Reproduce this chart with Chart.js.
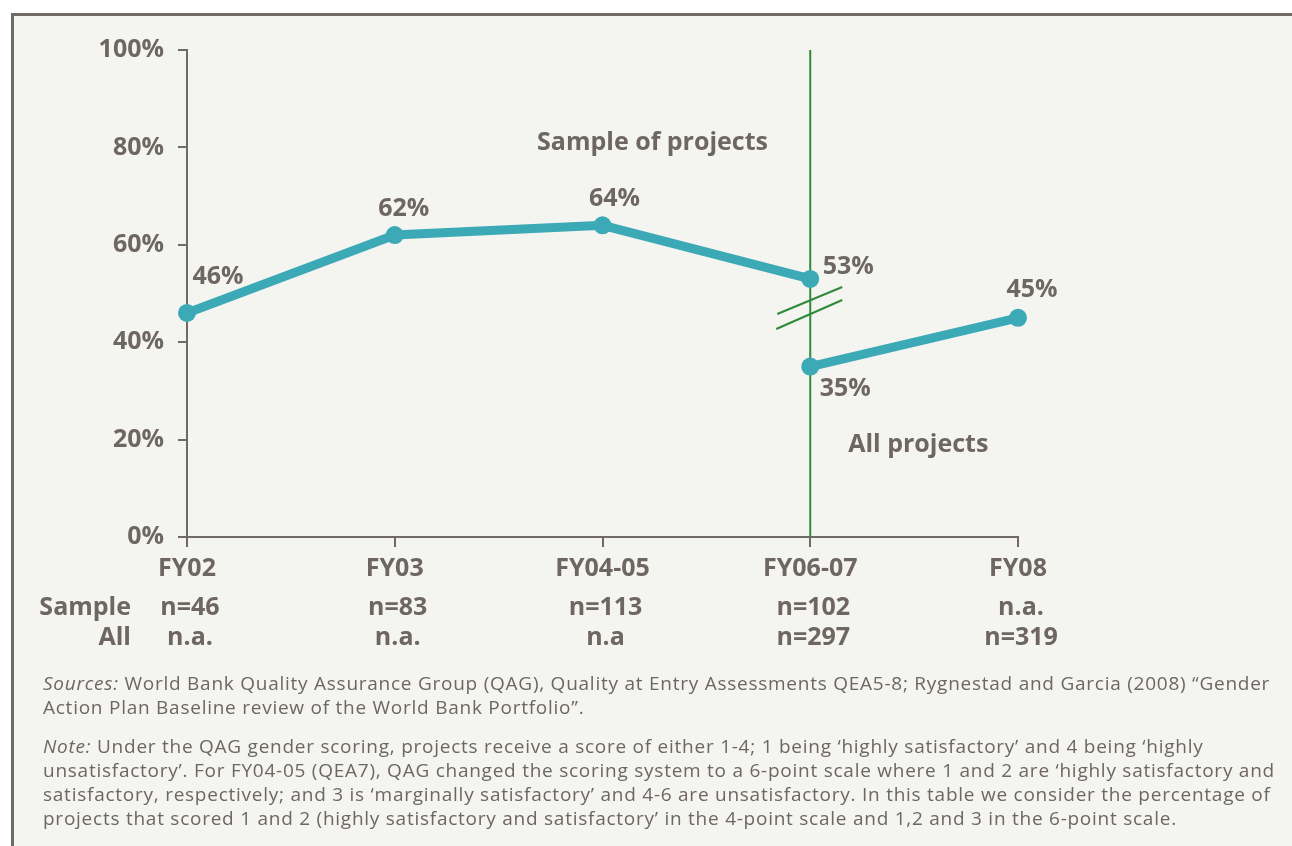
<!DOCTYPE html>
<html>
<head>
<meta charset="utf-8">
<script src="https://cdn.jsdelivr.net/npm/chart.js@4"></script>
<style>
  html, body { margin: 0; padding: 0; background: #fff; overflow: hidden; width: 1292px; height: 846px; }
  #frame { position: absolute; left: 11px; top: 13px; width: 1400px; height: 900px; border: 3px solid #6f6a66; background: #f4f4f0; }
  #wrap { position: absolute; left: 0; top: 0; width: 1292px; height: 846px; }
  #notes { position: absolute; left: 43px; top: 671px; font-family: "Open Sans", sans-serif; font-size: 19px; letter-spacing: 0.75px; line-height: 24px; color: #6d6661; white-space: nowrap; }
  #notes p { margin: 0 0 15px 0; }
</style>
</head>
<body>
<div id="frame"></div>
<div id="wrap"><canvas id="chart" width="1292" height="846"></canvas></div>
<div id="notes">
  <p><i>Sources:</i> World Bank Quality Assurance Group (QAG), Quality at Entry Assessments QEA5-8; Rygnestad and Garcia (2008) “Gender<br>Action Plan Baseline review of the World Bank Portfolio”.</p>
  <p><i>Note:</i> Under the QAG gender scoring, projects receive a score of either 1-4; 1 being ‘highly satisfactory’ and 4 being ‘highly<br>unsatisfactory’. For FY04-05 (QEA7), QAG changed the scoring system to a 6-point scale where 1 and 2 are ‘highly satisfactory and<br>satisfactory, respectively; and 3 is ‘marginally satisfactory’ and 4-6 are unsatisfactory.  In this table we consider the percentage of<br>projects that scored 1 and 2 (highly satisfactory and satisfactory’ in the 4-point scale and 1,2 and 3 in the 6-point scale.</p>
</div>
<script>
const categories = ['FY02', 'FY03', 'FY04-05', 'FY06-07', 'FY08'];
const sampleValues = [46, 62, 64, 53, null];
const allValues = [null, null, null, 35, 45];
const sampleN = ['n=46', 'n=83', 'n=113', 'n=102', 'n.a.'];
const allN = ['n.a.', 'n.a.', 'n.a', 'n=297', 'n=319'];
const yTicks = [0, 20, 40, 60, 80, 100];

const textColor = '#6d6661';
const axisColor = '#6f6a66';
const lineColor = '#3ba9b6';
const green = '#2f8a3a';
const fontFamily = '"Open Sans", sans-serif';
const boldFont = 'bold 25px ' + fontFamily;

// label offsets from each point (px)
const sampleLabelOffsets = [[31, -36], [9, -26], [12, -26], [38, -12], null];
const allLabelOffsets = [null, null, null, [35, 22], [14, -28]];

const extras = {
  id: 'extras',
  beforeDatasetsDraw(chart) {
    const { ctx, scales: { x, y } } = chart;
    const bx = x.getPixelForValue(3);
    ctx.save();
    ctx.strokeStyle = green;
    ctx.lineWidth = 2;
    ctx.beginPath();
    ctx.moveTo(bx, y.getPixelForValue(100));
    ctx.lineTo(bx, y.getPixelForValue(0));
    ctx.stroke();
    // break marks
    ctx.beginPath();
    ctx.moveTo(bx - 33, 314); ctx.lineTo(bx + 32, 287);
    ctx.moveTo(bx - 34, 329); ctx.lineTo(bx + 32, 300);
    ctx.stroke();
    ctx.restore();
  },
  afterDraw(chart) {
    const { ctx, scales: { x, y } } = chart;
    ctx.save();
    ctx.font = boldFont;
    ctx.fillStyle = textColor;
    ctx.textAlign = 'center';
    ctx.textBaseline = 'middle';

    const drawLabels = (vals, offs) => {
      vals.forEach((v, i) => {
        if (v == null || !offs[i]) return;
        ctx.fillText(v + '%', x.getPixelForValue(i) + offs[i][0], y.getPixelForValue(v) + offs[i][1]);
      });
    };
    drawLabels(sampleValues, sampleLabelOffsets);
    drawLabels(allValues, allLabelOffsets);

    ctx.fillText('Sample of projects', x.getPixelForValue(2) + 50, y.getPixelForValue(81));
    ctx.fillText('All projects', x.getPixelForValue(3) + 108, y.getPixelForValue(19));

    // table rows under the axis
    const rowY1 = 608, rowY2 = 638;
    categories.forEach((c, i) => {
      const px = x.getPixelForValue(i) + 3;
      ctx.fillText(sampleN[i], px, rowY1);
      ctx.fillText(allN[i], px, rowY2);
    });
    ctx.textAlign = 'right';
    ctx.fillText('Sample', 131, rowY1);
    ctx.fillText('All', 131, rowY2);
    ctx.restore();
  }
};

new Chart(document.getElementById('chart'), {
  type: 'line',
  data: {
    labels: categories,
    datasets: [
      {
        data: sampleValues,
        borderColor: lineColor,
        backgroundColor: lineColor,
        borderWidth: 9,
        pointRadius: 9,
        pointBorderWidth: 0,
        borderCapStyle: 'round',
        tension: 0
      },
      {
        data: allValues,
        borderColor: lineColor,
        backgroundColor: lineColor,
        borderWidth: 9,
        pointRadius: 9,
        pointBorderWidth: 0,
        borderCapStyle: 'round',
        tension: 0
      }
    ]
  },
  options: {
    responsive: false,
    animation: false,
    layout: { padding: { top: 50, right: 274, bottom: 0, left: 0 } },
    plugins: { legend: { display: false }, tooltip: { enabled: false } },
    scales: {
      x: {
        offset: false,
        grid: { drawOnChartArea: false, drawTicks: true, tickLength: 10, color: axisColor, lineWidth: 2 },
        border: { color: axisColor, width: 2 },
        ticks: { color: textColor, font: { family: fontFamily, size: 25, weight: 'bold' }, padding: 7, maxRotation: 0 },
        afterFit(s) { s.height = 309; }
      },
      y: {
        min: 0,
        max: 100,
        afterBuildTicks(s) { s.ticks = yTicks.map(v => ({ value: v })); },
        grid: { drawOnChartArea: false, drawTicks: true, tickLength: 9, color: axisColor, lineWidth: 2 },
        border: { color: axisColor, width: 2 },
        ticks: { color: textColor, font: { family: fontFamily, size: 25, weight: 'bold' }, padding: 14, callback: v => v + '%' },
        afterFit(s) { s.width = 187; }
      }
    }
  },
  plugins: [extras]
});
</script>
</body>
</html>
